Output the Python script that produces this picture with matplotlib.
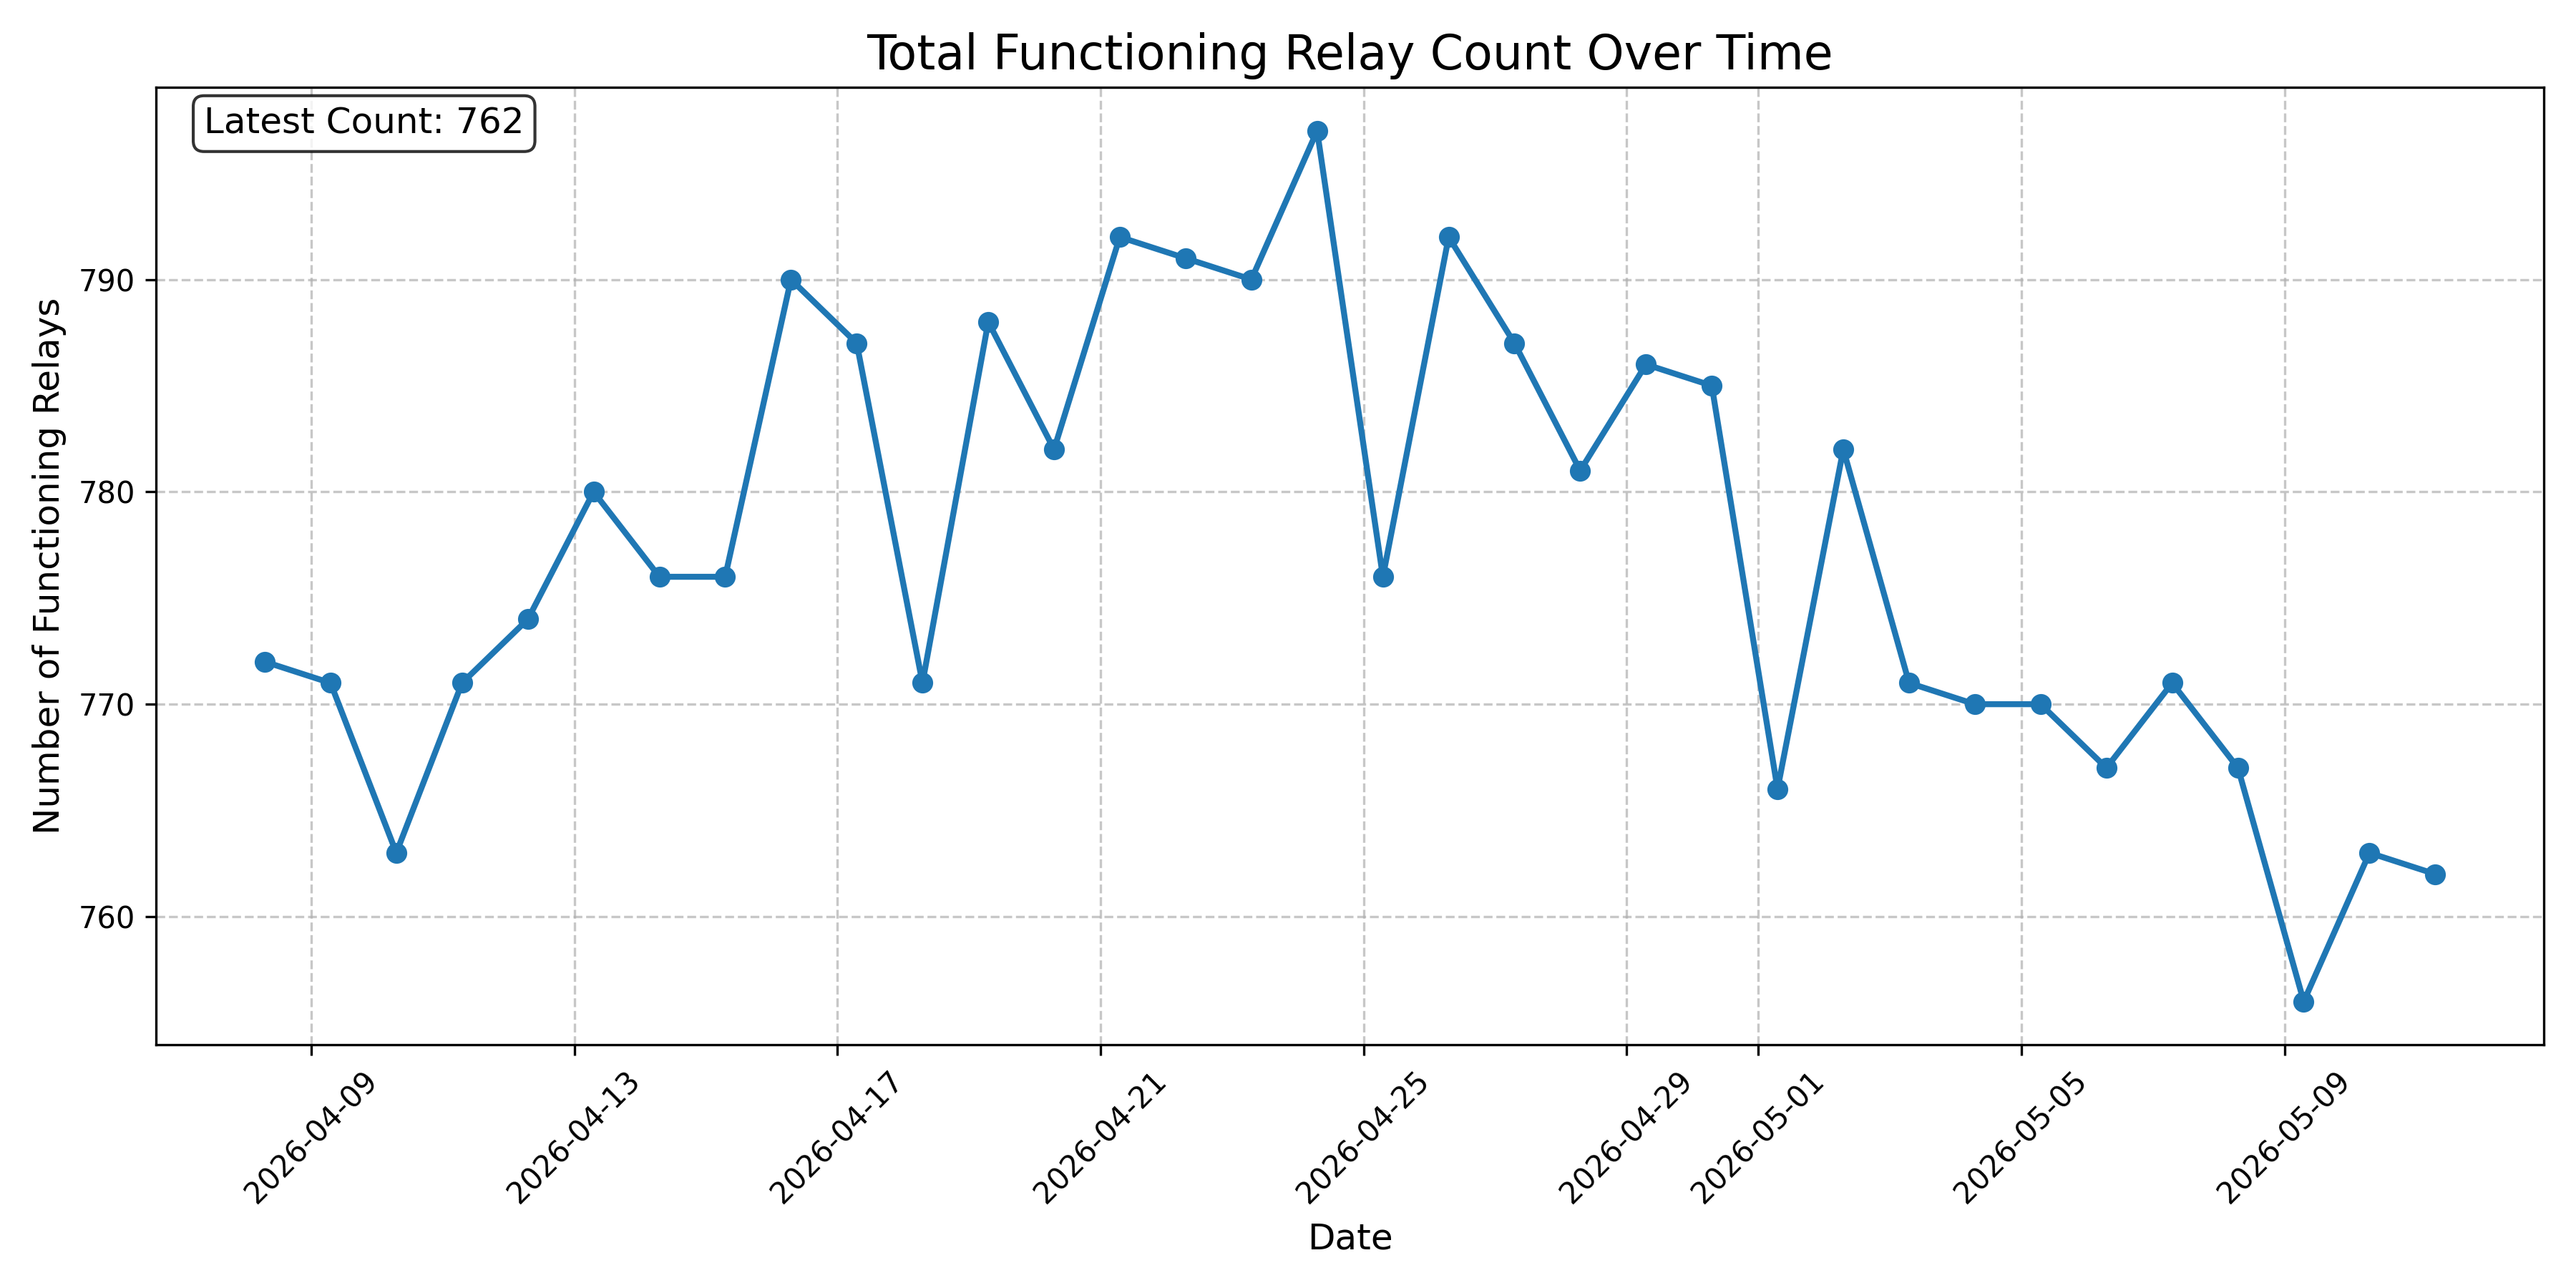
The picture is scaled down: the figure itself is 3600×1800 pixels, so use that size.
import matplotlib
matplotlib.use("Agg")
import matplotlib.pyplot as plt
import matplotlib.dates as mdates
import pandas as pd

dates = pd.date_range("2026-04-08 07:00", periods=34, freq="D")
counts = [772, 771, 763, 771, 774, 780, 776, 776, 790, 787, 771, 788, 782, 792,
          791, 790, 797, 776, 792, 787, 781, 786, 785, 766, 782, 771, 770, 770,
          767, 771, 767, 756, 763, 762]

fig, ax = plt.subplots(figsize=(12, 6), dpi=300)
ax.plot(dates, counts, marker="o", linewidth=2, color="#1f77b4")
ax.set_title("Total Functioning Relay Count Over Time", fontsize=16)
ax.set_xlabel("Date", fontsize=12)
ax.set_ylabel("Number of Functioning Relays", fontsize=12)
ax.grid(True, linestyle="--", alpha=0.7)
ax.xaxis.set_major_locator(mdates.DayLocator(interval=4, bymonthday=None) if False else mdates.AutoDateLocator())
ax.xaxis.set_major_formatter(mdates.DateFormatter("%Y-%m-%d"))
plt.setp(ax.get_xticklabels(), rotation=45)
ax.text(0.02, 0.98, f"Latest Count: {counts[-1]}", transform=ax.transAxes,
        fontsize=12, va="top",
        bbox=dict(boxstyle="round", facecolor="white", alpha=0.8))
fig.tight_layout()
fig.savefig("out.png", dpi=300)
